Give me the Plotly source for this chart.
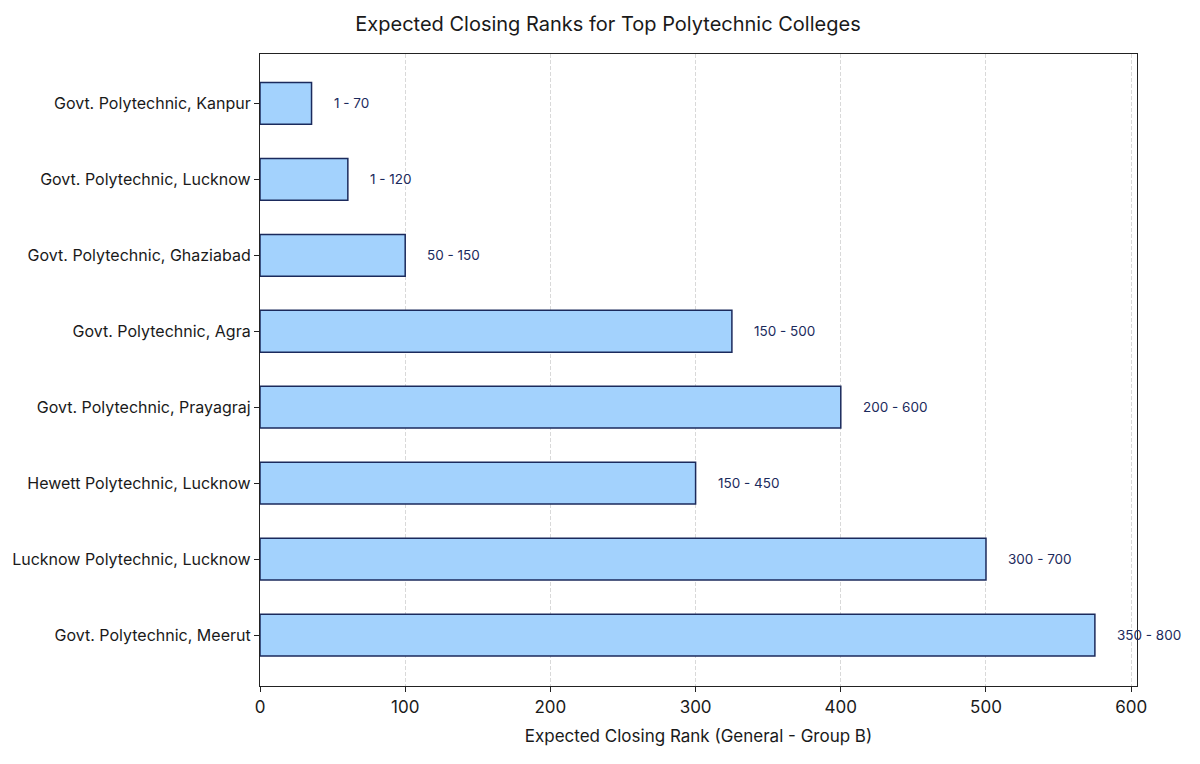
import plotly.graph_objects as go

colleges = [
    "Govt. Polytechnic, Kanpur",
    "Govt. Polytechnic, Lucknow",
    "Govt. Polytechnic, Ghaziabad",
    "Govt. Polytechnic, Agra",
    "Govt. Polytechnic, Prayagraj",
    "Hewett Polytechnic, Lucknow",
    "Lucknow Polytechnic, Lucknow",
    "Govt. Polytechnic, Meerut",
]
rank_low = [1, 1, 50, 150, 200, 150, 300, 350]
rank_high = [70, 120, 150, 500, 600, 450, 700, 800]

# bar length = middle of the expected range
mid_rank = [(lo + hi) / 2 for lo, hi in zip(rank_low, rank_high)]
range_labels = [f"{lo} - {hi}" for lo, hi in zip(rank_low, rank_high)]

font = "Inter, Roboto, sans-serif"
navy = "#1b2a5c"

fig = go.Figure(go.Bar(
    x=mid_rank, y=colleges, orientation="h", width=0.55,
    marker=dict(color="#a3d2fd", line=dict(color=navy, width=1.5)),
    hoverinfo="x+y",
))

for c, v, t in zip(colleges, mid_rank, range_labels):
    fig.add_annotation(x=v, y=c, text=t, showarrow=False, xanchor="left",
                       xshift=20, font=dict(family=font, size=13.5, color=navy))

fig.update_layout(
    width=1200, height=764,
    paper_bgcolor="white", plot_bgcolor="white",
    margin=dict(l=252, r=71, t=46, b=86),
    title=dict(text="Expected Closing Ranks for Top Polytechnic Colleges",
               x=0.5, xanchor="center", y=0.979, yanchor="middle",
               font=dict(family=font, size=20, color="#1a1a1a")),
    font=dict(family=font, color="#1a1a1a"),
    showlegend=False,
)
fig.update_xaxes(
    range=[0, 604], dtick=100, showgrid=True, gridcolor="#d9d9d9", griddash="4px,2px",
    gridwidth=1, zeroline=False, showline=True, linecolor="#222", linewidth=1.2,
    mirror=True, ticks="outside", ticklen=5, tickcolor="#222",
    tickfont=dict(size=17, family=font),
    title=dict(text="Expected Closing Rank (General - Group B)",
               font=dict(size=17, family=font), standoff=14),
)
fig.update_yaxes(
    range=[7.67, -0.65], showgrid=False, showline=True, linecolor="#222",
    linewidth=1.2, mirror=True, ticks="outside", ticklen=5, tickcolor="#222",
    tickfont=dict(size=16, family=font), automargin=False,
)

fig.write_html("out.html")
